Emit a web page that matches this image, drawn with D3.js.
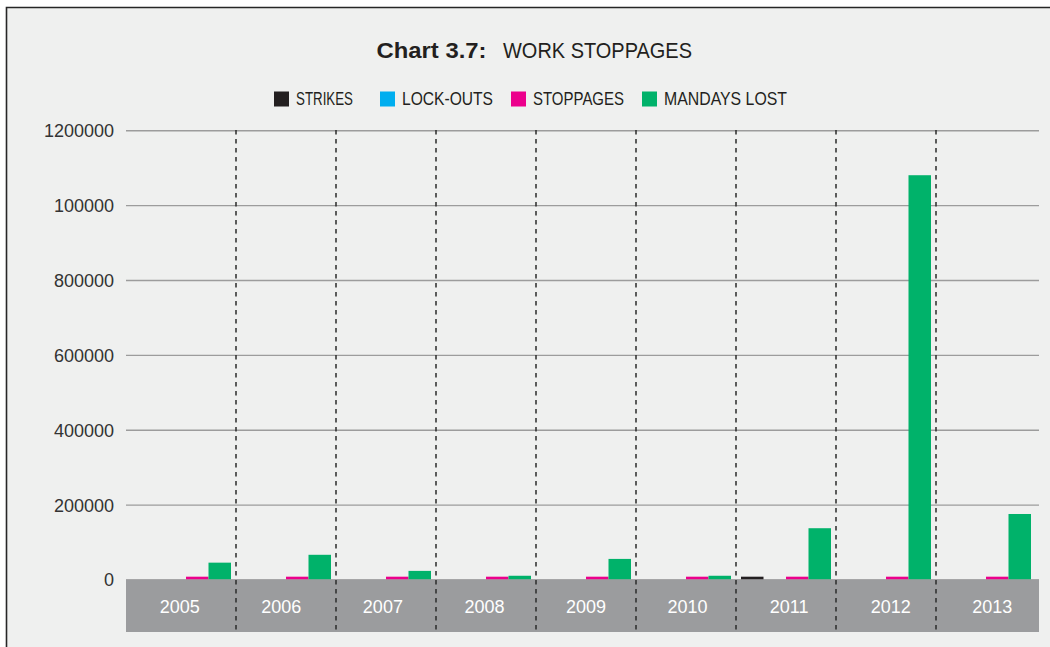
<!DOCTYPE html>
<html>
<head>
<meta charset="utf-8">
<script src="https://cdn.jsdelivr.net/npm/d3@7"></script>
<style>
  html, body { margin: 0; padding: 0; background: #fff; }
  svg { display: block; }
</style>
</head>
<body>
<svg id="chart"></svg>
<script>
// data
const years = ["2005", "2006", "2007", "2008", "2009", "2010", "2011", "2012", "2013"];
const seriesNames = ["STRIKES", "LOCK-OUTS", "STOPPAGES", "MANDAYS LOST"];
const seriesColors = ["#231f20", "#00aeef", "#ec008c", "#00b26a"];
const strikes = [0, 0, 0, 0, 0, 0, 7500, 0, 0];
const lockouts = [0, 0, 0, 0, 0, 0, 0, 0, 0];
const stoppages = [7500, 7500, 7500, 7500, 7500, 7500, 7500, 7500, 7500];
const mandaysLost = [45000, 66000, 23000, 10000, 55000, 10000, 137000, 1080000, 175000];
const yTicks = [0, 200000, 400000, 600000, 800000, 1000000, 1200000];
const yTickLabels = ["0", "200000", "400000", "600000", "800000", "100000", "1200000"];

const width = 1050, height = 647;
const svg = d3.select("#chart").attr("width", width).attr("height", height);
const font = "Liberation Sans, Arial, sans-serif";

// panel background + frame
svg.append("rect").attr("x", 6.5).attr("y", 7.5).attr("width", width).attr("height", height)
  .attr("fill", "#eff0ef");
svg.append("path").attr("d", `M6.5,${height} V7.5 H${width}`)
  .attr("fill", "none").attr("stroke", "#262626").attr("stroke-width", 1.6);

const plotLeft = 126, plotRight = 1039;
const x = d3.scaleBand().domain(years).range([136, 1036]);
const xLabel = d3.scaleBand().domain(years).range([129, 1043]);
const inner = d3.scaleBand().domain(seriesNames).range([5, 95]);
const y = d3.scaleLinear().domain([0, 1200000]).range([579.5, 130.3]);

// gridlines + y labels
const yAxis = d3.axisLeft(y).tickValues(yTicks)
  .tickFormat((d, i) => yTickLabels[i])
  .tickSize(-(plotRight - plotLeft)).tickPadding(12);
const ga = svg.append("g").attr("transform", `translate(${plotLeft},0)`).call(yAxis);
ga.select(".domain").remove();
ga.selectAll(".tick line").attr("stroke", "#9c9c9c").attr("stroke-width", 1.4);
ga.selectAll(".tick text").attr("font-family", font)
  .attr("font-size", 18).attr("fill", "#333").attr("dy", "0.36em");

// bars
const table = years.map((yr, i) => ({
  year: yr,
  values: [strikes[i], lockouts[i], stoppages[i], mandaysLost[i]]
}));
const groups = svg.append("g").selectAll("g").data(table).join("g")
  .attr("transform", d => `translate(${x(d.year)},0)`);
groups.selectAll("rect").data(d => d.values.map((v, k) => ({ k, v })).filter(e => e.v > 0))
  .join("rect")
  .attr("x", e => inner(seriesNames[e.k]))
  .attr("width", inner.bandwidth())
  .attr("y", e => y(e.v))
  .attr("height", e => y(0) - y(e.v))
  .attr("fill", e => seriesColors[e.k]);

// category band at the bottom
svg.append("rect").attr("x", plotLeft).attr("y", 579.5)
  .attr("width", plotRight - plotLeft).attr("height", 52.5).attr("fill", "#9b9c9e");
svg.append("g").selectAll("text").data(years).join("text")
  .attr("x", d => xLabel(d) + xLabel.bandwidth() / 2)
  .attr("y", 613.3)
  .attr("text-anchor", "middle")
  .attr("font-family", font)
  .attr("font-size", 18).attr("fill", "#fff")
  .text(d => d);

// dashed separators between years
svg.append("g").selectAll("line").data(years.slice(0, -1)).join("line")
  .attr("x1", d => x(d) + x.bandwidth()).attr("x2", d => x(d) + x.bandwidth())
  .attr("y1", 130).attr("y2", 632)
  .attr("stroke", "#2b2b2b").attr("stroke-width", 1.5).attr("stroke-dasharray", "4.5,4.5");

// title (the original typeface is narrower, so squeeze to its width)
svg.append("text").attr("x", 376.5).attr("y", 58.3)
  .attr("font-family", font).attr("font-size", 22).attr("font-weight", "bold")
  .attr("fill", "#231f20")
  .attr("textLength", 110).attr("lengthAdjust", "spacingAndGlyphs")
  .text("Chart 3.7:");
svg.append("text").attr("x", 503).attr("y", 58.3)
  .attr("font-family", font).attr("font-size", 22).attr("fill", "#231f20")
  .attr("textLength", 189).attr("lengthAdjust", "spacingAndGlyphs")
  .text("WORK STOPPAGES");

// legend
const legendX = [274, 380, 511, 642];
const legendW = [57, 91, 91, 123];
const legend = svg.append("g").selectAll("g").data(seriesNames).join("g")
  .attr("transform", (d, k) => `translate(${legendX[k]},0)`);
legend.append("rect").attr("y", 91.5).attr("width", 15).attr("height", 15)
  .attr("fill", (d, k) => seriesColors[k]);
legend.append("text").attr("x", 22).attr("y", 105.3)
  .attr("font-family", font).attr("font-size", 17.5).attr("fill", "#231f20")
  .attr("textLength", (d, k) => legendW[k]).attr("lengthAdjust", "spacingAndGlyphs")
  .text(d => d);
</script>
</body>
</html>
